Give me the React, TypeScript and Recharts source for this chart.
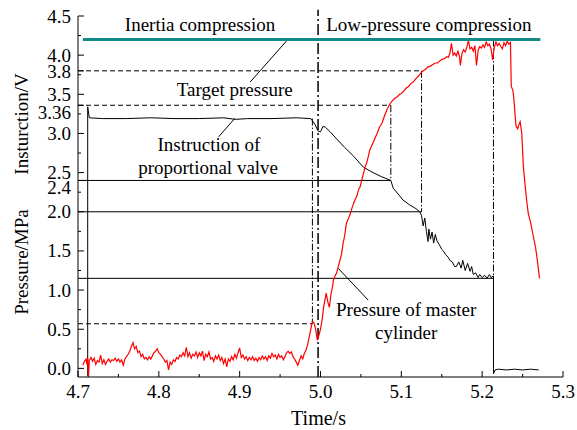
import React from 'react';
import { ComposedChart, Line, XAxis, YAxis, ReferenceLine, ReferenceDot } from 'recharts';

// ---------- data ----------
const instrTime = [4.712, 4.712, 4.714, 4.73, 4.76, 4.79, 4.82, 4.85, 4.88, 4.895, 4.91, 4.94, 4.97, 4.988, 4.993, 4.997, 5.0, 5.003, 5.006, 5.012, 5.02, 5.03, 5.04, 5.053, 5.065, 5.075, 5.087, 5.09, 5.095, 5.102, 5.11, 5.118, 5.123, 5.125, 5.127, 5.129, 5.131, 5.133, 5.134, 5.136, 5.138, 5.14, 5.142, 5.144, 5.147, 5.15, 5.152, 5.155, 5.158, 5.16, 5.163, 5.166, 5.168, 5.171, 5.174, 5.176, 5.179, 5.182, 5.185, 5.187, 5.189, 5.192, 5.195, 5.197, 5.2, 5.203, 5.206, 5.209, 5.211, 5.214, 5.214, 5.216, 5.22, 5.23, 5.24, 5.25, 5.26, 5.27];
const instrValue = [-0.1, 3.34, 3.2, 3.19, 3.19, 3.2, 3.19, 3.19, 3.2, 3.18, 3.19, 3.19, 3.2, 3.19, 3.12, 3.03, 3.02, 3.09, 3.08, 3.02, 2.93, 2.82, 2.72, 2.57, 2.5, 2.45, 2.4, 2.3, 2.24, 2.15, 2.09, 2.04, 2.0, 1.95, 1.82, 1.92, 1.75, 1.62, 1.78, 1.65, 1.74, 1.6, 1.71, 1.63, 1.58, 1.52, 1.5, 1.45, 1.42, 1.38, 1.36, 1.3, 1.3, 1.36, 1.28, 1.38, 1.25, 1.34, 1.24, 1.3, 1.2, 1.22, 1.16, 1.2, 1.16, 1.19, 1.15, 1.2, 1.16, 1.18, -0.07, -0.02, -0.01, -0.02, -0.01, -0.02, -0.01, -0.02];

const pressTime = [4.706, 4.708, 4.71, 4.711, 4.712, 4.713, 4.714, 4.716, 4.718, 4.72, 4.722, 4.724, 4.726, 4.728, 4.73, 4.732, 4.734, 4.736, 4.738, 4.74, 4.742, 4.744, 4.746, 4.748, 4.75, 4.752, 4.754, 4.756, 4.758, 4.76, 4.762, 4.764, 4.766, 4.768, 4.77, 4.772, 4.774, 4.776, 4.778, 4.78, 4.782, 4.784, 4.786, 4.788, 4.79, 4.792, 4.794, 4.796, 4.798, 4.8, 4.802, 4.804, 4.806, 4.808, 4.81, 4.812, 4.814, 4.816, 4.818, 4.82, 4.822, 4.824, 4.826, 4.828, 4.83, 4.832, 4.834, 4.836, 4.838, 4.84, 4.842, 4.844, 4.846, 4.848, 4.85, 4.852, 4.854, 4.856, 4.858, 4.86, 4.862, 4.864, 4.866, 4.868, 4.87, 4.872, 4.874, 4.876, 4.878, 4.88, 4.882, 4.884, 4.886, 4.888, 4.89, 4.892, 4.894, 4.896, 4.898, 4.9, 4.902, 4.904, 4.906, 4.908, 4.91, 4.912, 4.914, 4.916, 4.918, 4.92, 4.922, 4.924, 4.926, 4.928, 4.93, 4.932, 4.934, 4.936, 4.938, 4.94, 4.942, 4.944, 4.946, 4.948, 4.95, 4.952, 4.954, 4.956, 4.958, 4.96, 4.962, 4.964, 4.966, 4.968, 4.97, 4.972, 4.974, 4.976, 4.978, 4.98, 4.982, 4.984, 4.986, 4.988, 4.99, 4.992, 4.994, 4.996, 4.998, 5.0, 5.002, 5.004, 5.006, 5.007, 5.009, 5.011, 5.013, 5.015, 5.016, 5.018, 5.02, 5.022, 5.024, 5.026, 5.028, 5.03, 5.032, 5.034, 5.037, 5.039, 5.041, 5.043, 5.045, 5.047, 5.049, 5.051, 5.053, 5.055, 5.057, 5.059, 5.061, 5.064, 5.067, 5.07, 5.073, 5.076, 5.079, 5.082, 5.084, 5.086, 5.089, 5.092, 5.095, 5.098, 5.1, 5.103, 5.106, 5.109, 5.112, 5.115, 5.118, 5.121, 5.124, 5.127, 5.13, 5.133, 5.136, 5.139, 5.142, 5.145, 5.148, 5.151, 5.154, 5.156, 5.158, 5.16, 5.162, 5.164, 5.166, 5.168, 5.17, 5.172, 5.173, 5.175, 5.177, 5.179, 5.181, 5.183, 5.185, 5.187, 5.189, 5.191, 5.193, 5.195, 5.197, 5.199, 5.201, 5.203, 5.205, 5.207, 5.209, 5.211, 5.213, 5.215, 5.217, 5.219, 5.221, 5.223, 5.225, 5.227, 5.229, 5.231, 5.233, 5.235, 5.236, 5.238, 5.239, 5.241, 5.242, 5.244, 5.245, 5.247, 5.249, 5.251, 5.253, 5.255, 5.257, 5.259, 5.261, 5.263, 5.266, 5.268, 5.271];
const pressValue = [0.04, 0.09, 0.12, 0.05, 0.13, -0.11, 0.1, 0.14, 0.09, 0.13, 0.05, 0.1, 0.08, 0.17, 0.06, 0.11, 0.05, 0.09, 0.12, 0.08, 0.11, 0.1, 0.13, 0.09, 0.12, 0.08, 0.11, 0.04, 0.12, 0.15, 0.18, 0.22, 0.28, 0.33, 0.25, 0.28, 0.2, 0.22, 0.15, 0.18, 0.12, 0.14, 0.11, 0.15, 0.12, 0.16, 0.2, 0.22, 0.25, 0.2, 0.18, 0.15, 0.12, 0.08, 0.1, -0.02, 0.08, 0.05, 0.11, 0.09, 0.14, 0.12, 0.17, 0.15, 0.2, 0.16, 0.27, 0.15, 0.2, 0.13, 0.18, 0.16, 0.21, 0.14, 0.2, 0.16, 0.22, 0.1, 0.18, 0.15, 0.21, 0.12, 0.14, 0.09, 0.16, 0.12, 0.17, 0.1, 0.14, 0.06, 0.12, 0.02, 0.12, 0.09, 0.15, 0.11, 0.18, 0.13, 0.2, 0.26, 0.14, 0.17, 0.12, 0.15, 0.1, 0.14, 0.11, 0.15, 0.1, 0.13, 0.09, 0.14, 0.11, 0.16, 0.12, 0.15, 0.1, 0.16, 0.13, 0.19, 0.15, 0.17, 0.12, 0.18, 0.14, 0.16, 0.11, 0.15, 0.2, 0.22, 0.19, 0.21, 0.15, 0.12, 0.08, 0.04, 0.1, 0.16, 0.12, 0.19, 0.23, 0.3, 0.4, 0.5, 0.6, 0.58, 0.5, 0.36, 0.42, 0.5, 0.62, 0.79, 0.9, 0.96, 0.85, 0.78, 0.95, 1.05, 1.13, 1.18, 1.22, 1.3, 1.38, 1.46, 1.6, 1.7, 1.85, 1.9, 1.98, 2.05, 2.11, 2.16, 2.2, 2.28, 2.32, 2.4, 2.48, 2.57, 2.62, 2.7, 2.79, 2.86, 2.93, 3.0, 3.08, 3.13, 3.22, 3.3, 3.34, 3.38, 3.42, 3.45, 3.47, 3.5, 3.51, 3.54, 3.58, 3.6, 3.64, 3.66, 3.7, 3.73, 3.77, 3.8, 3.82, 3.85, 3.86, 3.88, 3.9, 3.9, 3.93, 3.95, 3.96, 3.98, 3.97, 4.02, 4.15, 4.0, 4.03, 3.99, 4.05, 3.98, 3.87, 4.02, 4.07, 4.04, 4.1, 4.19, 4.08, 4.1, 4.05, 4.12, 3.87, 4.06, 4.11, 4.09, 4.13, 4.1, 4.17, 4.12, 4.14, 4.08, 3.94, 4.1, 4.17, 4.12, 4.15, 4.11, 4.08, 4.16, 4.12, 4.18, 4.14, 4.16, 3.6, 3.55, 3.47, 3.2, 3.09, 3.06, 3.1, 3.15, 3.0, 2.57, 2.35, 2.15, 1.98, 1.9, 1.81, 1.7, 1.55, 1.4, 1.15];

const targetPressure = 4.2;
const targetStart = 4.706;
const targetEnd = 5.272;
const phaseBoundary = 4.997;
const levelPress38 = 3.8;
const levelPress336 = 3.36;
const levelInstr24 = 2.4;
const levelInstr20 = 2.0;
const levelInstr115 = 1.15;
const levelPress057 = 0.57;
const timeStep = 4.99;
const time336 = 5.087;
const time38 = 5.125;
const timeEnd = 5.214;

const xTicks = [4.7, 4.75, 4.8, 4.85, 4.9, 4.95, 5.0, 5.05, 5.1, 5.15, 5.2, 5.25, 5.3];
const xTickLabels: Record<string, string> = { '4.7': '4.7', '4.8': '4.8', '4.9': '4.9', '5': '5.0', '5.1': '5.1', '5.2': '5.2', '5.3': '5.3' };
const yTicks = [0, 0.25, 0.5, 0.75, 1, 1.25, 1.5, 1.75, 2, 2.25, 2.4, 2.5, 2.75, 3, 3.25, 3.36, 3.5, 3.75, 3.8, 4, 4.25, 4.5];
const yTickLabels: Record<string, string> = { '0': '0.0', '0.5': '0.5', '1': '1.0', '1.5': '1.5', '2': '2.0', '2.4': '2.4', '2.5': '2.5', '3': '3.0', '3.36': '3.36', '3.5': '3.5', '3.8': '3.8', '4': '4.0', '4.5': '4.5' };
const yLabelNudge: Record<string, number> = { '3.36': 7, '2.4': 7, '3.8': 1 };

const notes = [
  { x: 4.851, y: 4.308, text: 'Inertia compression' },
  { x: 5.134, y: 4.308, text: 'Low-pressure compression' },
  { x: 4.894, y: 3.478, text: 'Target pressure' },
  { x: 4.862, y: 2.774, text: 'Instruction of' },
  { x: 4.861, y: 2.481, text: 'proportional valve' },
  { x: 5.106, y: 0.668, text: 'Pressure of master' },
  { x: 5.106, y: 0.374, text: 'cylinder' },
];
const leaders = [
  [{ x: 4.913, y: 3.657 }, { x: 4.959, y: 4.193 }],
  [{ x: 4.874, y: 2.958 }, { x: 4.894, y: 3.193 }],
  [{ x: 5.059, y: 0.872 }, { x: 5.022, y: 1.277 }],
];

const instrData = instrTime.map((t, i) => ({ t, v: instrValue[i] }));
const pressData = pressTime.map((t, i) => ({ t, v: pressValue[i] }));

// ---------- styles ----------
const FONT = "'Liberation Serif', 'Times New Roman', serif";
const TICK_FS = 19;
const TICK_MARGIN = 8;
const DASH = '5 3';
const DASHDOT = '7 2 1.5 2';

const YTick = (props: any) => {
  const { x, y, payload } = props;
  const ax = x + TICK_MARGIN;
  const key = String(payload.value);
  const lab = yTickLabels[key];
  const len = lab ? 6 : 3;
  return (
    <g>
      <line x1={ax} x2={ax + len} y1={y} y2={y} stroke="#000" strokeWidth={1} />
      {lab ? (
        <text x={x + 1} y={y + 6.5 + (yLabelNudge[key] || 0)} textAnchor="end" fontSize={TICK_FS} fontFamily={FONT} fill="#000">
          {lab}
        </text>
      ) : null}
    </g>
  );
};

const XTick = (props: any) => {
  const { x, y, payload } = props;
  const ay = y - TICK_MARGIN;
  const key = String(Math.round(payload.value * 100) / 100);
  const lab = xTickLabels[key];
  const len = lab ? 6 : 3;
  return (
    <g>
      <line x1={x} x2={x} y1={ay} y2={ay - len} stroke="#000" strokeWidth={1} />
      {lab ? (
        <text x={x} y={ay + 21} textAnchor="middle" fontSize={TICK_FS} fontFamily={FONT} fill="#000">
          {lab}
        </text>
      ) : null}
    </g>
  );
};

const YTitle = (p: any) => {
  const vb = p.viewBox || { x: 0, y: 16 };
  const tx = vb.x + 28;
  const c1 = vb.y + 108;
  const c2 = vb.y + 246;
  return (
    <g>
      <text x={tx} y={c1} transform={`rotate(-90, ${tx}, ${c1})`} textAnchor="middle" fontSize={19} fontFamily={FONT} fill="#000">Insturction/V</text>
      <text x={tx} y={c2} transform={`rotate(-90, ${tx}, ${c2})`} textAnchor="middle" fontSize={19} fontFamily={FONT} fill="#000">Pressure/MPa</text>
    </g>
  );
};

const XTitle = (p: any) => {
  const vb = p.viewBox || { x: 78, y: 377, width: 485 };
  return (
    <text x={vb.x + vb.width / 2 - 2} y={vb.y + 48} textAnchor="middle" fontSize={20} fontFamily={FONT} fill="#000">Time/s</text>
  );
};

export default function App() {
  return (
    <div style={{ position: 'absolute', left: 0, top: 0, width: 577, height: 430, background: '#fff' }}>
      <ComposedChart width={577} height={430} margin={{ top: 16, right: 14, bottom: 0, left: 0 }}>
        <XAxis
          dataKey="t"
          type="number"
          domain={[4.7, 5.3]}
          ticks={xTicks}
          interval={0}
          allowDataOverflow
          height={53}
          tickSize={0}
          tickMargin={TICK_MARGIN}
          tickLine={false}
          axisLine={{ stroke: '#000', strokeWidth: 1 }}
          tick={<XTick />}
          label={{ content: (p: any) => <XTitle {...p} /> }}
        />
        <YAxis
          type="number"
          domain={[-0.11, 4.5]}
          ticks={yTicks}
          interval={0}
          allowDataOverflow
          width={78}
          tickSize={0}
          tickMargin={TICK_MARGIN}
          tickLine={false}
          axisLine={{ stroke: '#000', strokeWidth: 1 }}
          tick={<YTick />}
          label={{ content: (p: any) => <YTitle {...p} /> }}
        />

        {/* guide lines */}
        <ReferenceLine segment={[{ x: 4.7, y: levelPress38 }, { x: time38, y: levelPress38 }]} stroke="#000" strokeDasharray={DASH} />
        <ReferenceLine segment={[{ x: 4.7, y: levelPress336 }, { x: time336, y: levelPress336 }]} stroke="#000" strokeDasharray={DASH} />
        <ReferenceLine segment={[{ x: 4.7, y: levelPress057 }, { x: timeStep, y: levelPress057 }]} stroke="#000" strokeDasharray={DASH} />
        <ReferenceLine segment={[{ x: 4.7, y: levelInstr24 }, { x: time336, y: levelInstr24 }]} stroke="#000" />
        <ReferenceLine segment={[{ x: 4.7, y: levelInstr20 }, { x: time38, y: levelInstr20 }]} stroke="#000" />
        <ReferenceLine segment={[{ x: 4.7, y: levelInstr115 }, { x: timeEnd, y: levelInstr115 }]} stroke="#000" />
        <ReferenceLine segment={[{ x: time336, y: levelPress336 }, { x: time336, y: levelInstr24 }]} stroke="#000" strokeDasharray={DASHDOT} />
        <ReferenceLine segment={[{ x: time38, y: levelPress38 }, { x: time38, y: levelInstr20 }]} stroke="#000" strokeDasharray={DASHDOT} />
        <ReferenceLine segment={[{ x: timeEnd, y: targetPressure }, { x: timeEnd, y: levelInstr115 }]} stroke="#000" strokeDasharray={DASHDOT} />
        <ReferenceLine segment={[{ x: timeStep, y: 3.19 }, { x: timeStep, y: levelPress057 }]} stroke="#000" strokeDasharray={DASHDOT} />
        <ReferenceLine segment={[{ x: phaseBoundary, y: -0.11 }, { x: phaseBoundary, y: 4.58 }]} stroke="#000" strokeWidth={1.5} strokeDasharray="11 3 2 3" ifOverflow="visible" />

        {leaders.map((seg, i) => (
          <ReferenceLine key={'ld' + i} segment={seg} stroke="#000" strokeWidth={1} />
        ))}

        <Line data={instrData} dataKey="v" stroke="#000" strokeWidth={1} dot={false} isAnimationActive={false} type="linear" />
        <Line data={pressData} dataKey="v" stroke="#ff0000" strokeWidth={1.2} dot={false} isAnimationActive={false} type="linear" />

        <ReferenceLine segment={[{ x: targetStart, y: targetPressure }, { x: targetEnd, y: targetPressure }]} stroke="#138a8a" strokeWidth={3} isFront />

        {notes.map((n, i) => (
          <ReferenceDot
            key={'n' + i}
            x={n.x}
            y={n.y}
            r={0}
            fill="none"
            stroke="none"
            ifOverflow="visible"
            isFront
            label={{
              content: (p: any) => (
                <text x={p.viewBox.x} y={p.viewBox.y} textAnchor="middle" fontSize={19} fontFamily={FONT} fill="#000">
                  {n.text}
                </text>
              ),
            }}
          />
        ))}
      </ComposedChart>
    </div>
  );
}
